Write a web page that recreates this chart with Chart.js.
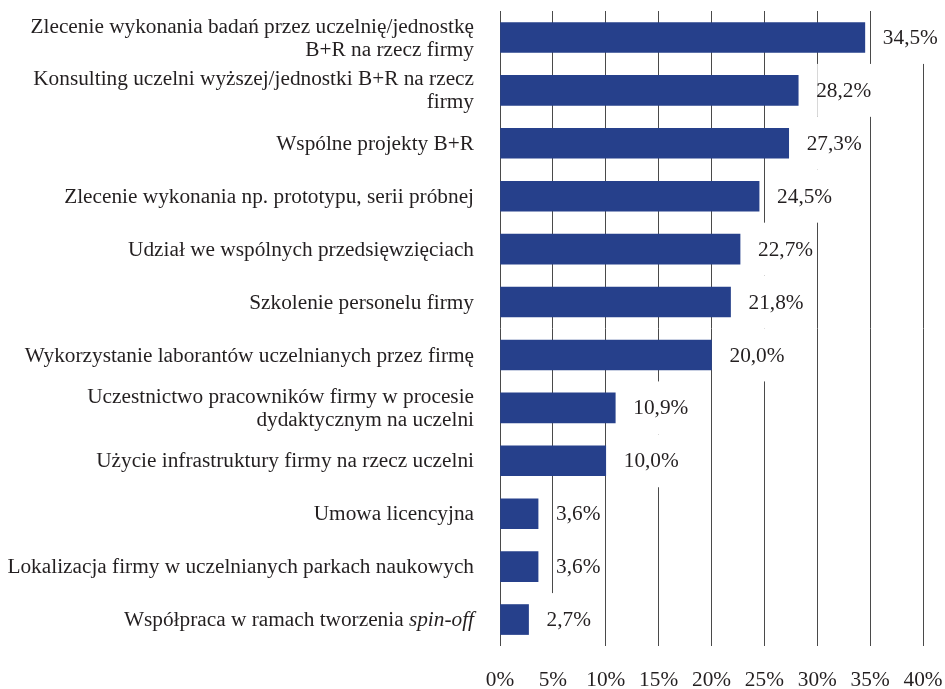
<!DOCTYPE html>
<html>
<head>
<meta charset="utf-8">
<script src="https://cdn.jsdelivr.net/npm/chart.js@4"></script>
<style>
html,body{margin:0;padding:0;background:#fff;}
#wrap{width:945px;height:689px;}
</style>
</head>
<body>
<div id="wrap"><canvas id="c" width="945" height="689"></canvas></div>
<script>
const categories = [
  ['Zlecenie wykonania badań przez uczelnię/jednostkę', 'B+R na rzecz firmy'],
  ['Konsulting uczelni wyższej/jednostki B+R na rzecz', 'firmy'],
  ['Wspólne projekty B+R'],
  ['Zlecenie wykonania np. prototypu, serii próbnej'],
  ['Udział we wspólnych przedsięwzięciach'],
  ['Szkolenie personelu firmy'],
  ['Wykorzystanie laborantów uczelnianych przez firmę'],
  ['Uczestnictwo pracowników firmy w procesie', 'dydaktycznym na uczelni'],
  ['Użycie infrastruktury firmy na rzecz uczelni'],
  ['Umowa licencyjna'],
  ['Lokalizacja firmy w uczelnianych parkach naukowych'],
  ['Współpraca w ramach tworzenia spin-off']
];
const italicTerms = ['spin-off'];
const values = [34.5, 28.2, 27.3, 24.5, 22.7, 21.8, 20.0, 10.9, 10.0, 3.6, 3.6, 2.7];
const tickLabels = ['0%', '5%', '10%', '15%', '20%', '25%', '30%', '35%', '40%'];

const FONT_FAMILY = "'Liberation Serif', 'Times New Roman', serif";
const FONT_SIZE = 21.3;
const TEXT_COLOR = '#231f20';
const fmt = v => v.toFixed(1).replace('.', ',') + '%';

const labelPlugin = {
  id: 'labels',
  beforeDatasetsDraw(chart) {
    const ctx = chart.ctx;
    const meta = chart.getDatasetMeta(0);
    const ys = chart.scales.y;
    const rowH = Math.abs(ys.getPixelForValue(1) - ys.getPixelForValue(0));
    ctx.save();
    ctx.font = FONT_SIZE + 'px ' + FONT_FAMILY;
    ctx.fillStyle = '#ffffff';
    meta.data.forEach((bar, i) => {
      const w = ctx.measureText(fmt(values[i])).width;
      const x = bar.x + 18;
      ctx.fillRect(x + 1, bar.y - rowH / 2, w - 1, rowH);
    });
    ctx.restore();
  },
  afterDatasetsDraw(chart) {
    const ctx = chart.ctx;
    const meta = chart.getDatasetMeta(0);
    ctx.save();
    ctx.font = FONT_SIZE + 'px ' + FONT_FAMILY;
    ctx.fillStyle = TEXT_COLOR;
    ctx.textBaseline = 'middle';
    ctx.textAlign = 'left';
    meta.data.forEach((bar, i) => {
      ctx.fillText(fmt(values[i]), bar.x + 18, bar.y + 1);
    });
    // y-axis category labels (right aligned, multi-line, with italic terms)
    const ys = chart.scales.y;
    const rightX = chart.chartArea.left - 26;
    const lineH = 23;
    categories.forEach((lines, i) => {
      const cy = ys.getPixelForValue(i);
      const n = lines.length;
      lines.forEach((line, j) => {
        const y = cy + (j - (n - 1) / 2) * lineH + 1;
        let segs = [{t: line, it: false}];
        italicTerms.forEach(term => {
          const out = [];
          segs.forEach(s => {
            if (s.it) { out.push(s); return; }
            const parts = s.t.split(term);
            parts.forEach((p, k) => {
              if (p) out.push({t: p, it: false});
              if (k < parts.length - 1) out.push({t: term, it: true});
            });
          });
          segs = out;
        });
        const fonts = segs.map(s => (s.it ? 'italic ' : '') + FONT_SIZE + 'px ' + FONT_FAMILY);
        let total = 0;
        const widths = segs.map((s, k) => { ctx.font = fonts[k]; const w = ctx.measureText(s.t).width; total += w; return w; });
        let x = rightX - total;
        segs.forEach((s, k) => {
          ctx.font = fonts[k];
          ctx.fillText(s.t, x, y);
          x += widths[k];
        });
      });
    });
    ctx.restore();
  }
};

new Chart(document.getElementById('c'), {
  type: 'bar',
  data: {
    labels: categories.map(l => l.join(' ')),
    datasets: [{
      data: values,
      backgroundColor: '#26408b',
      borderWidth: 0,
      barThickness: 30
    }]
  },
  options: {
    indexAxis: 'y',
    responsive: false,
    animation: false,
    devicePixelRatio: 1,
    layout: { padding: { top: 11, right: 22, left: 0, bottom: 0 } },
    plugins: { legend: { display: false }, tooltip: { enabled: false } },
    scales: {
      x: {
        min: 0, max: 40,
        ticks: {
          stepSize: 5,
          padding: 22,
          color: TEXT_COLOR,
          font: { family: FONT_FAMILY, size: FONT_SIZE },
          callback: (v, idx) => tickLabels[idx]
        },
        grid: { color: '#4a4a4a', lineWidth: 1, drawTicks: false },
        border: { display: false },
        afterFit: s => { s.height = 43; s.paddingRight = 0; s.paddingLeft = 0; }
      },
      y: {
        ticks: { display: false },
        grid: { display: false },
        border: { display: false },
        afterFit: s => { s.width = 500; s.paddingTop = 0; s.paddingBottom = 0; }
      }
    }
  },
  plugins: [labelPlugin]
});
</script>
</body>
</html>
